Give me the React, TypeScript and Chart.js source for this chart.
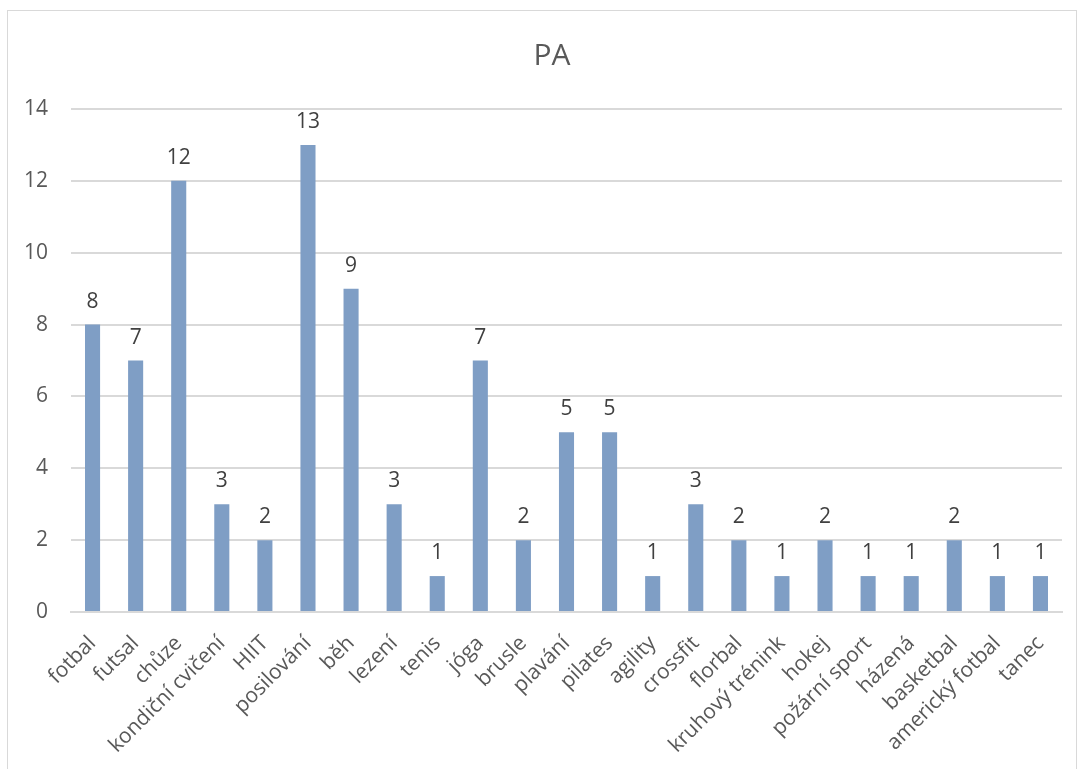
import React, { useEffect, useRef } from "react";
import { Chart, registerables } from "chart.js";

Chart.register(...registerables);

const categories = [
  "fotbal", "futsal", "chůze", "kondiční cvičení", "HIIT", "posilování", "běh",
  "lezení", "tenis", "jóga", "brusle", "plavání", "pilates", "agility", "crossfit",
  "florbal", "kruhový trénink", "hokej", "požární sport", "házená", "basketbal",
  "americký fotbal", "tanec",
];
const values = [8, 7, 12, 3, 2, 13, 9, 3, 1, 7, 2, 5, 5, 1, 3, 2, 1, 2, 1, 1, 2, 1, 1];
const titleText = "PA";

const FONT = "'Open Sans', 'Noto Sans', sans-serif";

const framePlugin = {
  id: "frame",
  beforeDraw(chart: any) {
    const ctx = chart.ctx;
    ctx.save();
    ctx.fillStyle = "#ffffff";
    ctx.fillRect(0, 0, chart.width, chart.height);
    ctx.strokeStyle = "#D9D9D9";
    ctx.lineWidth = 1;
    ctx.strokeRect(7.5, 10.5, 1069, 800);
    ctx.font = `30px ${FONT}`;
    ctx.fillStyle = "#595959";
    ctx.textAlign = "center";
    ctx.textBaseline = "alphabetic";
    ctx.fillText(titleText, 552, 65);
    ctx.restore();
  },
};

const labelPlugin = {
  id: "valueLabels",
  afterDatasetsDraw(chart: any) {
    const ctx = chart.ctx;
    const meta = chart.getDatasetMeta(0);
    ctx.save();
    ctx.font = `21px ${FONT}`;
    ctx.fillStyle = "#404040";
    ctx.textAlign = "center";
    ctx.textBaseline = "alphabetic";
    meta.data.forEach((bar: any, i: number) => {
      ctx.fillText(String(chart.data.datasets[0].data[i]), bar.x, bar.y - 17);
    });
    ctx.restore();
  },
};

export default function App() {
  const ref = useRef<HTMLCanvasElement>(null);
  useEffect(() => {
    if (!ref.current) return;
    const chart = new Chart(ref.current, {
      type: "bar",
      data: {
        labels: categories,
        datasets: [
          {
            data: values,
            backgroundColor: "#7F9EC5",
            barPercentage: 0.35,
            categoryPercentage: 1,
          },
        ],
      },
      options: {
        animation: false,
        responsive: false,
        layout: { padding: { top: 109, right: 19, left: 0, bottom: 0 } },
        plugins: {
          legend: { display: false },
          tooltip: { enabled: false },
          title: { display: false },
        },
        scales: {
          x: {
            grid: { display: false },
            border: { color: "#D9D9D9", width: 2 },
            ticks: {
              autoSkip: false,
              minRotation: 45,
              maxRotation: 45,
              color: "#595959",
              font: { family: FONT, size: 21 },
              padding: 11,
            },
            afterFit(scale: any) {
              scale.height = 157;
            },
          },
          y: {
            min: 0,
            max: 14,
            ticks: {
              stepSize: 2,
              color: "#595959",
              font: { family: FONT, size: 21 },
              padding: 23,
            },
            grid: { color: "#D9D9D9", lineWidth: 2, drawTicks: false },
            border: { display: false },
            afterFit(scale: any) {
              scale.width = 71;
            },
          },
        },
      },
      plugins: [framePlugin, labelPlugin],
    });
    return () => chart.destroy();
  }, []);
  return (
    <div style={{ position: "fixed", left: 0, top: 0, width: 1081, height: 769, background: "#fff" }}>
      <canvas ref={ref} width={1081} height={769} style={{ display: "block" }} />
    </div>
  );
}
